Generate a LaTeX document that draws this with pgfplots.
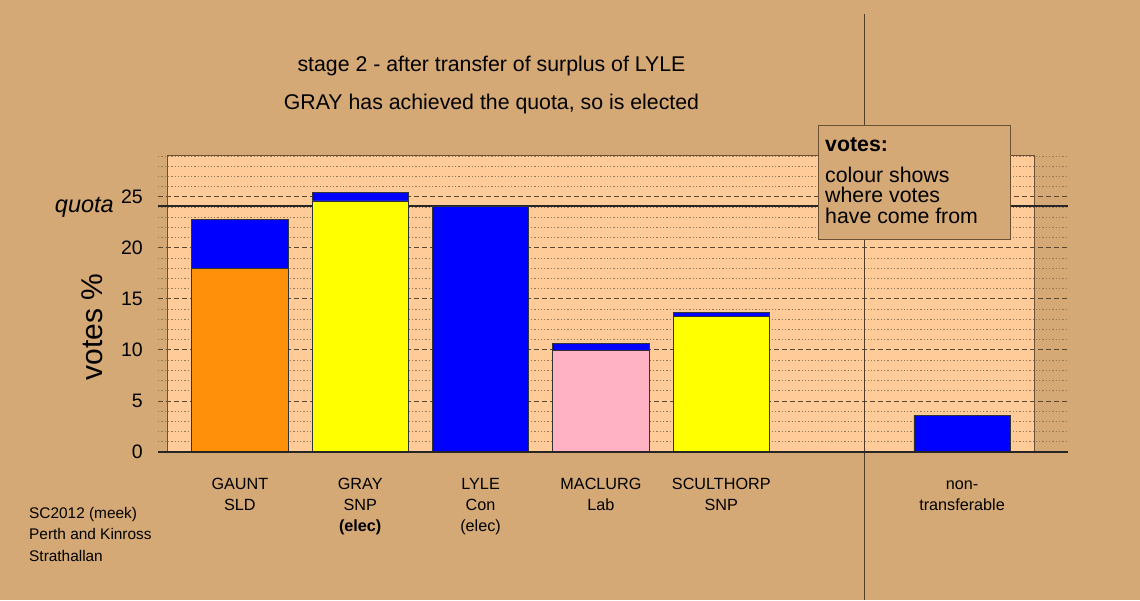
\documentclass[border=0pt]{standalone}
\usepackage{pgfplots}
\pgfplotsset{compat=1.18}
\usepackage{fontspec}
\setmainfont{Liberation Sans}
\definecolor{bgc}{RGB}{212,169,117}
\definecolor{lightbox}{RGB}{255,204,153}
\definecolor{boxedge}{RGB}{105,80,50}
\definecolor{gridmaj}{RGB}{90,70,45}
\definecolor{gridmin}{RGB}{150,120,85}
\definecolor{cOrange}{RGB}{255,145,10}
\definecolor{cYellow}{RGB}{255,255,0}
\definecolor{cBlue}{RGB}{0,0,255}
\definecolor{cPink}{RGB}{255,178,196}
\definecolor{sepc}{RGB}{80,60,40}
\pgfplotsset{mybar/.style={ybar, bar width=0.8, bar shift=0pt, draw=black!80, line width=0.8pt}}
\begin{document}
\begin{tikzpicture}
\fill[bgc] (0pt,0pt) rectangle (1140pt,600pt);
\useasboundingbox (0pt,0pt) rectangle (1140pt,600pt);
\begin{axis}[
  clip=false,
  at={(158pt,148pt)}, anchor=south west,
  scale only axis, width=910pt, height=297pt,
  xmin=-0.68, xmax=6.88, ymin=0, ymax=29.1,
  axis line style={draw=none},
  xtick={0,1,2,3,4,6},
  xticklabels={{GAUNT\\SLD},{GRAY\\SNP\\\textbf{(elec)}},{LYLE\\Con\\(elec)},{MACLURG\\Lab},{SCULTHORP\\SNP},{\vphantom{T}non-\\transferable}},
  xticklabel style={align=center, font=\fontsize{16.2}{21}\selectfont, anchor=north, yshift=-26pt, inner sep=0pt},
  ytick={0,5,10,15,20,25},
  yticklabel style={font=\fontsize{19.5}{20}\selectfont, anchor=east, xshift=-15pt, inner sep=0pt},
  /pgf/number format/assume math mode=true,
  major tick length=0pt, minor tick length=0pt,
]
\fill[lightbox] (axis cs:-0.6,0) rectangle (axis cs:6.6,29.1);
\pgfplotsinvokeforeach{1,2,3,4,6,7,8,9,11,12,13,14,16,17,18,19,21,22,23,24,26,27,28,29}{
  \draw[gridmin, line width=0.9pt, dash pattern=on 1.3pt off 2pt] (axis cs:-0.68,#1) -- (axis cs:6.88,#1);
}
\pgfplotsinvokeforeach{5,10,15,20,25}{
  \draw[gridmaj, line width=0.9pt, dash pattern=on 5pt off 3pt] (axis cs:-0.68,#1) -- (axis cs:6.88,#1);
}
\draw[boxedge, line width=1pt] (axis cs:-0.6,0) rectangle (axis cs:6.6,29.1);
\draw[black!85, line width=1.3pt] (axis cs:-0.68,24.1) -- (axis cs:6.88,24.1);
\draw[sepc, line width=1.3pt] (axis cs:5.19,42.9) -- (axis cs:5.19,-14.5);
% total (blue tops = votes received in transfer)
\addplot[mybar, fill=cBlue] coordinates {(0,22.8) (1,25.4) (2,24.1) (3,10.6) (4,13.7) (6,3.6)};
% original votes
\addplot[mybar, fill=cOrange] coordinates {(0,18.0)};
\addplot[mybar, fill=cYellow] coordinates {(1,24.6) (4,13.3)};
\addplot[mybar, fill=cPink] coordinates {(3,10.0)};
\draw[black!85, line width=1.3pt] (axis cs:-0.68,0) -- (axis cs:6.88,0);
\end{axis}
\node[anchor=base, font=\fontsize{21.3}{21}\selectfont] at (491.5pt,528pt) {stage 2 - after transfer of surplus of LYLE};
\node[anchor=base, font=\fontsize{21.3}{21}\selectfont] at (491.5pt,490pt) {GRAY has achieved the quota, so is elected};
\node[anchor=base east, inner sep=0pt, font=\fontsize{23.5}{24}\selectfont\itshape] at (114pt,387pt) {quota};
\node[rotate=90, inner sep=0pt, font=\fontsize{30}{30}\selectfont] at (92pt,273pt) {votes \%};
\draw[boxedge, fill=bgc, line width=1pt] (818pt,474pt) rectangle (1010pt,360pt);
\node[anchor=base west, inner sep=0pt, font=\fontsize{21.3}{21}\selectfont\bfseries] at (825pt,448pt) {votes:};
\node[anchor=base west, inner sep=0pt, font=\fontsize{21.3}{21}\selectfont] at (825pt,417pt) {colour shows};
\node[anchor=base west, inner sep=0pt, font=\fontsize{21.3}{21}\selectfont] at (825pt,397pt) {where votes};
\node[anchor=base west, inner sep=0pt, font=\fontsize{21.3}{21}\selectfont] at (825pt,376pt) {have come from};
\node[anchor=base west, inner sep=0pt, font=\fontsize{15.4}{15}\selectfont] at (29pt,82pt) {SC2012 (meek)};
\node[anchor=base west, inner sep=0pt, font=\fontsize{15.4}{15}\selectfont] at (29pt,61pt) {Perth and Kinross};
\node[anchor=base west, inner sep=0pt, font=\fontsize{15.4}{15}\selectfont] at (29pt,39pt) {Strathallan};
\end{tikzpicture}
\end{document}
